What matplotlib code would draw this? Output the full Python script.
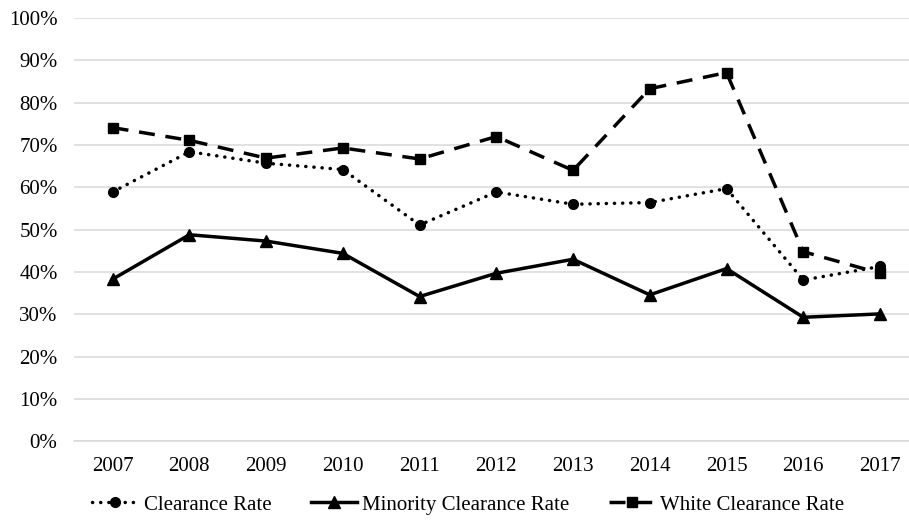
import matplotlib
matplotlib.use("Agg")
import matplotlib.pyplot as plt
from matplotlib.ticker import PercentFormatter, MultipleLocator

plt.rcParams['font.family'] = ['Liberation Serif', 'DejaVu Serif']

# data (percent)
years = ['2007', '2008', '2009', '2010', '2011', '2012', '2013', '2014', '2015', '2016', '2017']
clearance = [58.9, 68.4, 65.7, 64.2, 51.1, 58.9, 56.0, 56.4, 59.7, 38.1, 41.3]
minority = [38.3, 48.8, 47.3, 44.4, 34.2, 39.7, 43.0, 34.6, 40.8, 29.3, 30.1]
white = [74.1, 71.1, 66.9, 69.3, 66.7, 72.0, 64.0, 83.3, 87.1, 44.8, 39.7]

fig = plt.figure(figsize=(9.09, 5.20), dpi=100)
# plot area runs slightly past the right edge, as in the reference
ax = fig.add_axes([0.0817, 0.1513, 0.9286, 0.8141])

x = list(range(len(years)))

ax.plot(x, clearance, color='black', linewidth=2.5, linestyle=(0, (0.05, 2.3)),
        dash_capstyle='round', marker='o', markersize=7, label='Clearance Rate', zorder=3)
ax.plot(x, minority, color='black', linewidth=2.5, linestyle='-',
        marker='^', markersize=9, label='Minority Clearance Rate', zorder=3)
ax.plot(x, white, color='black', linewidth=2.5, linestyle=(0, (4.6, 3.1)),
        marker='s', markersize=7, label='White Clearance Rate', zorder=3)

ax.set_xlim(-0.5, len(years) - 0.5)
ax.set_ylim(0, 100)
ax.set_xticks(x)
ax.set_xticklabels(years)
ax.yaxis.set_major_locator(MultipleLocator(10))
ax.yaxis.set_major_formatter(PercentFormatter(decimals=0))

ax.grid(axis='y', color='#d9d9d9', linewidth=1.1)
ax.set_axisbelow(True)
for s in ['top', 'right', 'left']:
    ax.spines[s].set_visible(False)
ax.spines['bottom'].set_color('#d9d9d9')
ax.spines['bottom'].set_linewidth(1.1)

ax.tick_params(axis='both', length=0, labelsize=15, colors='black')
ax.tick_params(axis='y', pad=12)
ax.tick_params(axis='x', pad=11)

fig.legend(loc='center', bbox_to_anchor=(0.515, 0.029), ncol=3, frameon=False,
           fontsize=15, handlelength=2.2, handletextpad=0.25, columnspacing=1.9,
           borderaxespad=0)

fig.savefig('out.png', dpi=100)
